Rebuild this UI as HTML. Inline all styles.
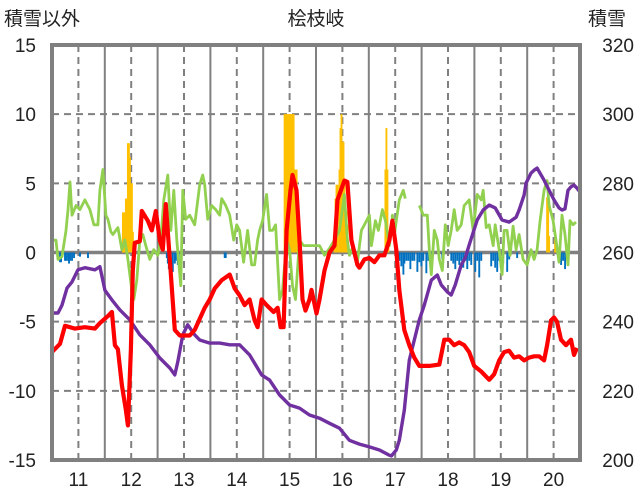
<!DOCTYPE html>
<html><head><meta charset="utf-8">
<style>
html,body{margin:0;padding:0;background:#fff;width:636px;height:501px;overflow:hidden}
svg{display:block;font-family:"Liberation Sans","Noto Sans CJK JP",sans-serif}
</style></head>
<body>
<svg id="chart" width="636" height="501" viewBox="0 0 636 501" xmlns="http://www.w3.org/2000/svg">
<text x="316" y="25" font-size="19" text-anchor="middle" fill="#222">桧枝岐</text>
<text x="4" y="25" font-size="19" fill="#222">積雪以外</text>
<text x="588" y="25" font-size="19" fill="#222">積雪</text>
<g id="grid"></g><g id="bars"></g><g id="lines"></g><g id="ticks"></g>
<rect x="52" y="45" width="528" height="415" fill="none" stroke="#808080" stroke-width="4"/>
</svg>
<script>
// time index (≈weekly steps, 0 = year 10.5, 529 = year 20.5)
const years = [11,12,13,14,15,16,17,18,19,20];
const leftTicks = [15,10,5,0,-5,-10,-15];
const rightTicks = [320,300,280,260,240,220,200];
const redT = [0,8,13,23,33,43,48,56,60,63,66,70,74,76,79,81,83,88,90,96,100,104,108,111,114,118,123,128,138,143,148,153,158,163,170,178,183,188,193,198,203,206,210,215,222,226,229,232,235,239,241,245,248,251,254,258,260,265,268,273,278,283,286,293,296,300,306,308,313,318,323,328,333,338,341,345,348,353,358,363,368,378,388,393,398,403,408,413,418,423,430,438,443,448,453,458,463,468,473,478,483,488,493,496,500,503,506,510,515,520,523,526];
const redV = [-7.2,-6.6,-5.3,-5.5,-5.4,-5.5,-5.1,-4.6,-4.3,-6.7,-7.0,-9.6,-11.4,-12.5,-7.0,-1.3,0.7,0.8,3.0,2.3,1.6,3.0,0.9,0.2,3.5,-0.5,-5.6,-6.0,-6.0,-5.6,-4.8,-4.0,-3.4,-2.6,-2.0,-1.6,-2.6,-3.1,-3.8,-3.4,-4.9,-5.4,-3.4,-3.8,-4.3,-4.0,-5.4,-5.4,1.6,4.5,5.6,4.5,0.9,-3.4,-4.2,-3.4,-2.7,-4.4,-3.4,-1.3,0.0,0.5,3.8,5.2,5.1,0.9,-0.9,-1.1,-0.5,-0.4,-0.7,-0.2,-0.2,0.9,2.3,0.2,-2.7,-5.6,-6.7,-7.6,-8.2,-8.2,-8.1,-6.3,-6.3,-6.7,-6.5,-6.7,-7.2,-8.2,-8.6,-9.2,-8.8,-7.8,-7.2,-7.1,-7.6,-7.5,-7.8,-7.6,-7.5,-7.5,-7.8,-6.7,-4.9,-4.7,-5.0,-6.3,-6.7,-6.3,-7.4,-6.9];
const snowT = [0,6,10,15,20,26,33,43,48,53,60,68,78,88,98,108,118,123,126,131,136,143,148,158,168,178,188,198,210,218,228,238,248,258,268,278,288,298,308,318,328,338,340,345,348,353,358,363,368,373,380,386,390,396,400,404,410,414,418,426,432,438,444,451,458,465,468,473,475,480,483,486,493,498,503,508,511,514,517,520,523,526,529];
const snowV = [242.5,242.5,244.8,249.7,251.5,255,255.6,255,255.9,249.1,246.3,243.4,240.5,236.2,233.3,229.5,226.6,224.6,228.4,236.2,239.1,236.2,234.7,233.8,233.8,233.3,233.3,230.4,224.6,223.1,218.8,215.9,215,213,212.1,210.6,209.2,205.7,204.6,203.8,202.9,201.4,201.2,202.9,205.7,214.4,228.9,234.7,240.5,244.8,252,253.5,250.6,248.6,247.7,250.6,256.4,258.4,262.2,269.4,272.3,273.7,272.9,269.4,268.8,270.2,272.3,276.6,280.1,283,283.8,284.4,280.9,278,275.2,272.9,272.3,272.6,278,279,279.5,278.6,277.5];
const greenT = [0,4,6,10,14,16,18,20,24,28,33,38,42,46,48,51,54,56,59,61,66,70,73,76,80,82,85,88,91,94,98,102,106,109,112,116,119,122,125,129,131,134,138,143,148,151,153,156,160,164,168,170,174,178,182,185,188,192,196,200,203,206,208,211,215,218,221,224,228,231,235,238,241,244,248,252,258,268,273,278,283,288,291,293,296,298,302,306,310,313,318,320,324,327,331,334,338,341,343,345,348,352,354,360,368,372,376,378,380,383,386,388,391,394,397,400,403,406,410,413,418,422,426,430,432,435,438,442,444,448,451,453,456,459,462,465,468,472,476,480,483,486,489,493,496,498,502,505,508,511,514,517,519,522,525];
const greenV = [0.9,0.9,-0.5,-0.3,1.6,3.1,5.1,2.7,3.4,3.1,3.8,3.1,2.0,2.0,4.5,6.0,2.7,2.4,1.5,1.3,1.8,0.2,0.9,-0.5,-2.7,-3.4,-2.0,0.9,1.3,0.5,-0.5,0.2,-0.2,0.9,3.8,5.6,1.6,4.5,0.9,-2.4,4.5,2.4,2.7,2.0,4.9,5.6,4.9,2.4,3.4,3.1,2.7,3.9,3.4,2.7,0.9,2.0,1.6,-0.7,1.6,-0.9,-0.9,0.9,1.6,2.3,4.2,1.6,1.6,2.0,-3.4,-2.7,0.9,0.2,-2.4,-3.4,0.9,0.5,0.5,0.5,-0.2,0.3,0.9,1.6,3.1,4.2,0.9,-0.2,0.5,-0.7,1.6,2.0,2.7,0.5,2.3,1.6,3.1,2.3,0.5,2.7,1.3,2.3,3.8,4.5,3.9,null,3.4,2.7,2.7,0.2,-1.6,1.6,0.9,-0.5,-1.3,2.0,0.5,1.6,3.1,1.6,2.0,3.4,3.8,1.6,4.2,3.8,4.5,1.8,2.0,0.5,2.0,0.2,-1.6,1.6,1.6,-0.2,1.9,0.2,1.3,-0.5,-0.9,0.2,-0.5,0.2,2.3,4.5,5.2,3.4,2.3,0.9,-0.7,2.7,1.3,-0.9,2.3,2.0,2.2];
const barT = [71,72,73,74,75,76,77,78,79,80,81,233,234,235,236,237,238,239,240,241,242,243,244,245,283,284,285,286,288,289,290,291,292,293,294,295,296,334,335,336,337,496,497,498,504,505,8,9,13,14,16,17,18,20,22,28,36,115,116,117,119,121,123,124,126,127,173,174,348,350,352,353,355,357,359,361,363,366,368,370,372,375,377,379,391,400,402,404,406,408,410,412,414,416,418,420,424,426,428,430,440,442,444,446,448,452,456,458,466,510,512,514];
const barV = [2.9,2.9,2.9,3.9,3.9,7.9,7.9,6.9,5,5,1.5,10,10,10,10,10,10,10,10,10,10,6,6,6,1.8,3.9,4.9,4.9,6,9,10,8,8,4.9,2,3,2,6,9,6,1,4,4,1.2,1,1,-0.7,-0.7,-0.6,-0.6,-0.6,-0.8,-0.6,-0.6,-0.4,-0.3,-0.4,-0.4,-0.8,-1.2,-0.9,-1.4,-0.8,-0.6,-0.9,-0.6,-0.4,-0.4,-0.6,-1.0,-1.6,-0.8,-0.6,-0.6,-1.2,-0.6,-0.6,-1.4,-0.7,-1.0,-0.6,-1.5,-0.6,-0.8,-0.5,-0.6,-0.8,-1.2,-0.6,-0.9,-0.6,-1.1,-0.6,-1.2,-0.6,-0.9,-1.4,-0.6,-1.8,-0.6,-1.0,-0.6,-1.1,-1.4,-0.6,-0.8,-1.4,-0.5,-0.4,-0.9,-0.6,-1.2];

const X0=52,X1=580,Y0=460,Y1=45,NS='http://www.w3.org/2000/svg';
const xT = t => X0 + t*(X1-X0)/529;
const xYear = y => xT((y-10.5)*52.9);
const yL = v => Y0 - (v+15)*(Y0-Y1)/30;
const yR = v => Y0 - (v-200)*(Y0-Y1)/120;
function mk(tag, attrs, parent){const e=document.createElementNS(NS,tag);for(const k in attrs)e.setAttribute(k,attrs[k]);parent.appendChild(e);return e;}
const grid=document.getElementById('grid'),bars=document.getElementById('bars'),lines=document.getElementById('lines'),ticks=document.getElementById('ticks');
for(let y=11;y<=20;y++){
  const d=mk('line',{x1:xYear(y),x2:xYear(y),y1:Y1,y2:Y0,stroke:'#808080','stroke-width':2,'stroke-dasharray':'7,5'},grid);
  
  
  const s=mk('line',{x1:xYear(y+0.5),x2:xYear(y+0.5),y1:Y1,y2:Y0,stroke:'#808080','stroke-width':2},grid);
  
  
}
leftTicks.forEach((v,i)=>{
  if(v!==15&&v!==-15){
    const g=mk('line',{x1:X0,x2:X1,y1:yL(v),y2:yL(v),stroke:'#808080','stroke-width':v===0?3.5:2,'stroke-dasharray':v===0?'none':'7,5'},grid);
    
    
  }
  const t=mk('text',{x:36,y:yL(v)+7,'font-size':19,'text-anchor':'end',fill:'#222'},ticks);
  t.textContent=v;
  
  
});
rightTicks.forEach(v=>{
  const t=mk('text',{x:634,y:yR(v)+7,'font-size':19,'text-anchor':'end',fill:'#222'},ticks);
  t.textContent=v;
  
  
});
years.forEach(y=>{
  const t=mk('text',{x:xYear(y),y:486,'font-size':19,'text-anchor':'middle',fill:'#222'},ticks);
  t.textContent=y;
  
  
});
barT.forEach((t,i)=>{
  const v=barV[i],y0=yL(0),y1=yL(v);
  const r=mk('rect',{x:xT(t)-0.9,width:1.9,y:Math.min(y0,y1),height:Math.abs(y1-y0),fill:v>0?'#ffc000':'#0070c0'},bars);
  
  
});
function path(ts,vs,sc){let d='',pen=false;ts.forEach((t,i)=>{const v=vs[i];if(v===null){pen=false;return;}d+=(pen?'L':'M')+xT(t).toFixed(1)+','+sc(v).toFixed(1);pen=true;});return d;}
const g=mk('path',{d:path(greenT,greenV,yL),fill:'none',stroke:'#92d050','stroke-width':2.8,'stroke-linejoin':'round'},lines);


const p=mk('path',{d:path(snowT,snowV,yR),fill:'none',stroke:'#7030a0','stroke-width':3.4,'stroke-linejoin':'round'},lines);


const r=mk('path',{d:path(redT,redV,yL),fill:'none',stroke:'#ff0000','stroke-width':4.2,'stroke-linejoin':'round'},lines);


</script>
</body></html>
